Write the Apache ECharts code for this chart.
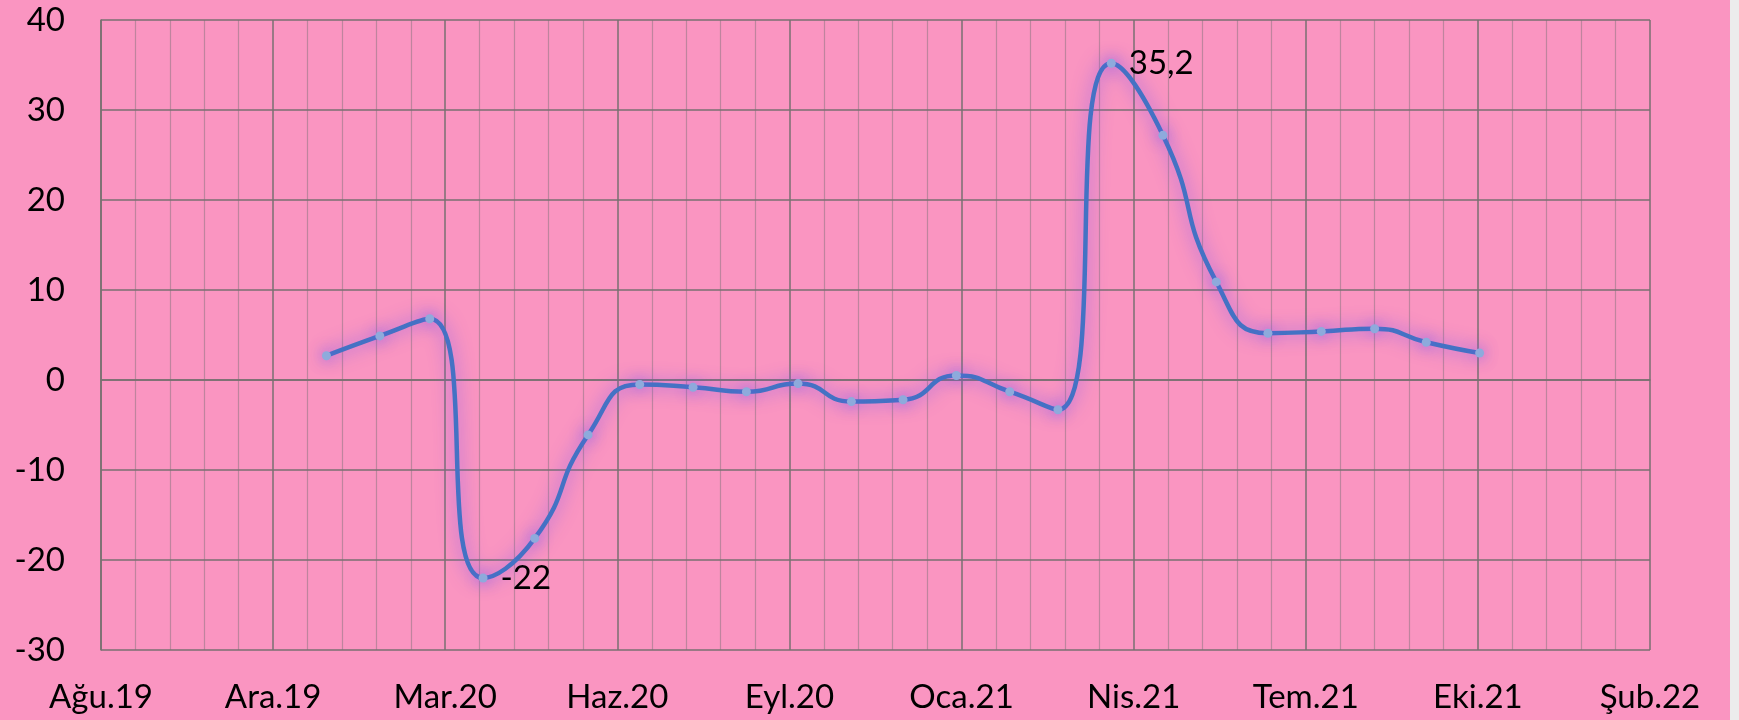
<!DOCTYPE html>
<html>
<head>
<meta charset="utf-8">
<script src="https://cdn.jsdelivr.net/npm/echarts@6/dist/echarts.min.js"></script>
<style>
  html, body { margin: 0; padding: 0; background: #ececec; }
  #chart { width: 1730px; height: 720px; background: #fa95c1; }
</style>
</head>
<body>
<div id="chart"></div>
<script>
// Months of the observations (first day of each month)
const months = ['2020-01','2020-02','2020-03','2020-04','2020-05','2020-06','2020-07','2020-08',
  '2020-09','2020-10','2020-11','2020-12','2021-01','2021-02','2021-03','2021-04','2021-05',
  '2021-06','2021-07','2021-08','2021-09','2021-10','2021-11'];
// Values
const values = [2.7, 4.9, 6.8, -22, -17.6, -6.1, -0.5, -0.8, -1.3, -0.4, -2.4, -2.2, 0.5,
  -1.3, -3.3, 35.2, 27.2, 10.9, 5.2, 5.4, 5.7, 4.2, 3.0];
// Points that carry a value label
const labelledMonths = ['2020-04', '2021-04'];
// Axis ranges (x in Excel-style day serials)
const xMin = 43700, xMax = 44600, xStep = 100;
const yMin = -30, yMax = 40, yStep = 10;
const trMonths = ['Oca','Şub','Mar','Nis','May','Haz','Tem','Ağu','Eyl','Eki','Kas','Ara'];

function toSerial(ym) {
  const [y, m] = ym.split('-').map(Number);
  return Date.UTC(y, m - 1, 1) / 86400000 + 25569;
}
function serialLabel(s) {
  const d = new Date((s - 25569) * 86400000);
  return trMonths[d.getUTCMonth()] + '.' + String(d.getUTCFullYear()).slice(2);
}

const data = months.map((m, i) => {
  const item = { value: [toSerial(m), values[i]] };
  if (labelledMonths.includes(m)) item.label = { show: true };
  return item;
});

const fontFamily = 'Lato, "Open Sans", sans-serif';
const chart = echarts.init(document.getElementById('chart'));
chart.setOption({
  backgroundColor: '#fa95c1',
  animation: false,
  grid: { left: 101, right: 80, top: 20, bottom: 70, containLabel: false },
  xAxis: {
    type: 'value', min: xMin, max: xMax, interval: xStep,
    axisLine: { show: true, lineStyle: { color: '#787070', width: 1.5 } },
    axisTick: { show: false },
    minorTick: { show: false, splitNumber: 5 },
    axisLabel: { formatter: serialLabel, color: '#000', fontSize: 33, fontFamily, margin: 31 },
    splitLine: { show: true, lineStyle: { color: '#787070', width: 1.5 } },
    minorSplitLine: { show: true, lineStyle: { color: 'rgba(120,110,115,0.45)', width: 1.2 } }
  },
  yAxis: {
    type: 'value', min: yMin, max: yMax, interval: yStep,
    axisLine: { show: true, lineStyle: { color: '#787070', width: 1.5 } },
    axisTick: { show: false },
    axisLabel: { color: '#000', fontSize: 33, fontFamily, margin: 36 },
    splitLine: { show: true, lineStyle: { color: '#787070', width: 1.5 } }
  },
  series: [{
    type: 'line',
    data: data,
    smooth: 0.55,
    symbol: 'circle',
    symbolSize: 9,
    lineStyle: { color: '#4472c4', width: 4.5, shadowColor: 'rgba(125,85,240,0.85)', shadowBlur: 18 },
    itemStyle: { color: '#8eaadc', shadowColor: 'rgba(125,85,240,0.85)', shadowBlur: 14 },
    label: {
      show: false, position: 'right', distance: 13, color: '#000', fontSize: 33, fontFamily,
      formatter: p => String(p.value[1]).replace('.', ',')
    }
  }]
});
</script>
</body>
</html>
